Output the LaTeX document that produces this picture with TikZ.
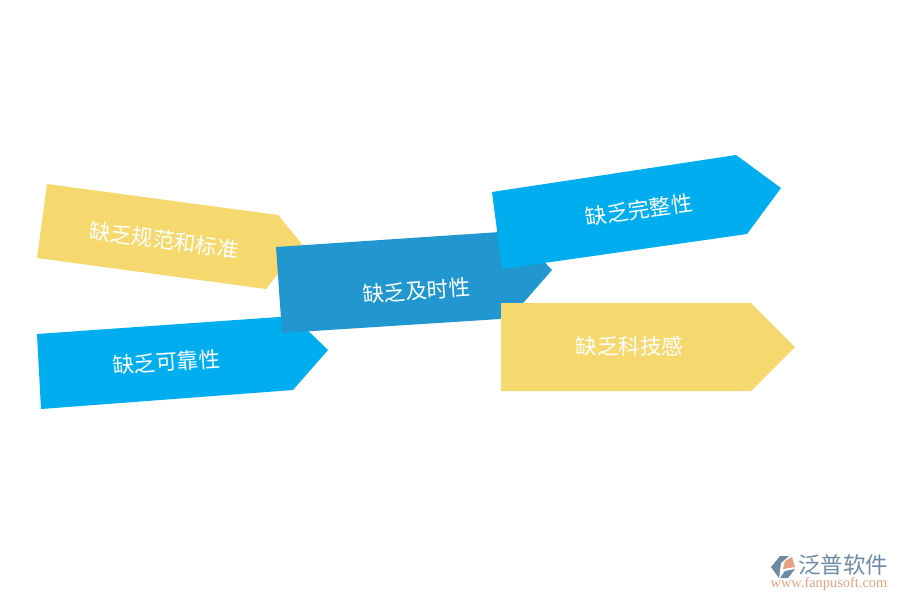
\documentclass[tikz,border=0pt]{standalone}
\usepackage{fontspec}
\setmainfont{Liberation Serif}
\newfontfamily\cjk{Noto Sans CJK SC}
\usetikzlibrary{positioning}
\definecolor{skyblue}{HTML}{00AEEF}
\definecolor{midblue}{HTML}{2196CF}
\definecolor{sandyellow}{HTML}{F5D96F}
\definecolor{logogray}{HTML}{6E8BA6}
\definecolor{logoorange}{HTML}{E5A283}
\tikzset{
    x=0.02cm, y=-0.02cm,
    label/.style = {%
        text=white,
        inner sep=0pt,
        font=\cjk\fontsize{12.25}{12.25}\selectfont},
    brand/.style = {%
        text=logogray,
        inner sep=0pt,
        font=\cjk\fontsize{12.8}{12.8}\selectfont},
    site/.style = {%
        text=logoorange,
        inner sep=0pt,
        font=\fontsize{8.2}{8.2}\selectfont},
}
\begin{document}
\begin{tikzpicture}
    \useasboundingbox (0,0) rectangle (900,600);
    % arrows, back to front
    \fill[sandyellow] (47,184) -- (278,215) -- (302,244) -- (266,289) -- (37,258) -- cycle;
    \node[label, rotate=-7.6] (norm) at (164,240) {缺乏规范和标准};
    \fill[skyblue] (37,334) -- (293,316) -- (328,350) -- (293,390) -- (41,409) -- cycle;
    \node[label, rotate=3.8] (trust) at (166.5,362) {缺乏可靠性};
    \fill[midblue] (276,247) -- (515,231) -- (552,270) -- (524,302) -- (500,319) -- (282,333) -- cycle;
    \node[label, rotate=3.9] (time) at (416.5,291) {缺乏及时性};
    \fill[skyblue] (492,192) -- (736,155) -- (781,188) -- (747,234) -- (502,269) -- cycle;
    \node[label, rotate=8.2] (whole) at (639,210) {缺乏完整性};
    \fill[sandyellow] (501,303) -- (751,303) -- (795,347) -- (751,391) -- (501,391) -- cycle;
    \node[label] (tech) at (629.5,346) {缺乏科技感};
    % logo
    \fill[logogray] (780,556) -- (789,556) -- (781,563) -- (779,578) -- (771,567) -- cycle;
    \fill[logoorange] (783,569) -- (785,561) -- (792,557) -- (795,567) -- cycle;
    \fill[logogray] (780,578) -- (785,571) -- (795,569) -- (788,578) -- cycle;
    \node[brand] (name) at (843,565) {泛普软件};
    \node[site] (www) at (829,584) {www.fanpusoft.com};
\end{tikzpicture}
\end{document}
